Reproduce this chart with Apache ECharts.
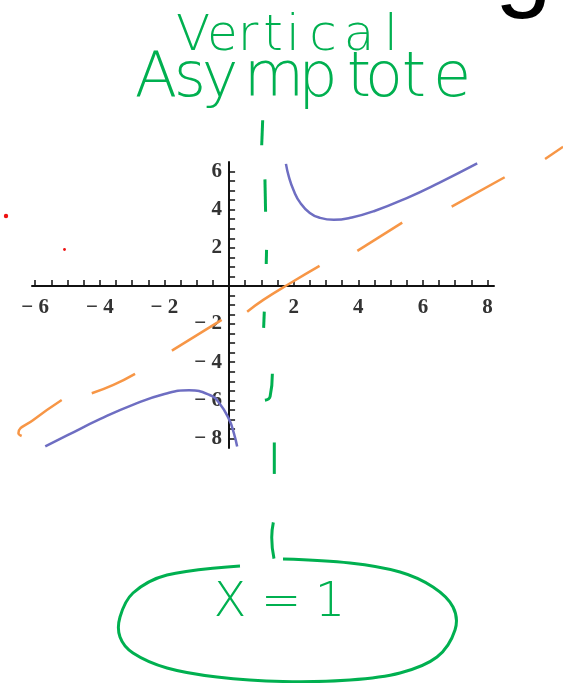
<!DOCTYPE html>
<html>
<head>
<meta charset="utf-8">
<script src="https://cdn.jsdelivr.net/npm/echarts@6/dist/echarts.min.js"></script>
<style>
  html, body { margin: 0; padding: 0; background: #fff; }
  #chart { width: 563px; height: 683px; }
</style>
</head>
<body>
<div id="chart"></div>
<script>
// tick positions and labels (Mathematica style axes)
var xTickValues = [-6, -5.5, -5, -4.5, -4, -3.5, -3, -2.5, -2, -1.5, -1, -0.5, 0.5, 1, 1.5, 2, 2.5, 3, 3.5, 4, 4.5, 5, 5.5, 6, 6.5, 7, 7.5, 8]
var xLabelValues = [-6, -4, -2, 2, 4, 6, 8]
var yTickValues = [-8, -7.5, -7, -6.5, -6, -5.5, -5, -4.5, -4, -3.5, -3, -2.5, -2, -1.5, -1, -0.5, 0.5, 1, 1.5, 2, 2.5, 3, 3.5, 4, 4.5, 5, 5.5, 6]
var yLabelValues = [-8, -6, -4, -2, 2, 4, 6]

// blue curve
var leftBranch = [[-5.69, -8.41], [-5, -7.83], [-4, -6.99], [-3, -6.25], [-2, -5.67], [-1.24, -5.47],
  [-0.6, -5.72], [-0.3, -6.15], [0, -7.0], [0.15, -7.73], [0.25, -8.42]]
var rightBranch = [[1.76, 6.4], [1.85, 5.73], [2, 5.0], [2.2, 4.37], [2.5, 3.83], [2.8, 3.58], [3.24, 3.47],
  [3.8, 3.59], [4.5, 3.93], [5.5, 4.61], [6.5, 5.41], [7.68, 6.43]]

// hand drawn slant asymptote (orange dashes)
var orangeDashes = [
  [[-6.42, -7.87], [-6.52, -7.72], [-6.06, -7.03], [-5.18, -5.98]],
  [[-4.25, -5.63], [-3.58, -5.19], [-2.91, -4.61]],
  [[-1.77, -3.39], [-0.23, -1.78]],
  [[0.56, -1.35], [1.06, -0.73], [1.89, 0.14], [2.8, 1.05]],
  [[3.97, 1.84], [5.36, 3.32]],
  [[6.89, 4.16], [8.53, 5.7]],
  [[9.78, 6.66], [10.34, 7.3]]
]

// hand drawn vertical asymptote x = 1 (green dashes)
var greenDashes = [
  [[1.04, 8.69], [1.01, 7.38]],
  [[1.11, 5.59], [1.13, 3.89]],
  [[1.16, 1.89], [1.15, 1.15]],
  [[1.09, -1.35], [1.07, -2.2]],
  [[1.34, -4.61], [1.27, -5.8], [1.11, -6.0]],
  [[1.4, -8.21], [1.4, -9.86]],
  [[1.37, -12.4], [1.32, -13.2], [1.39, -14.3]]
]

var green = '#00b050'
var W = 563, H = 683
var gLeft = 32, gRight = 69, gTop = 162, gBottom = 235
var xMin = -6.1, xMax = 8.2, yMin = -8.5, yMax = 6.5

// scale of the main grid, used to lay the axes through zero and
// to give the overlay grid (whole canvas) the same scale
var sx = (W - gLeft - gRight) / (xMax - xMin)
var sy = (H - gTop - gBottom) / (yMax - yMin)
var zeroX = gLeft - xMin * sx
var zeroY = gTop + yMax * sy

function fmt(v) {
  if (v < 0) return '\u2212 ' + (-v)
  return String(v)
}

// place handwritten letters one by one
function letters(word, xs, y, size) {
  var out = []
  for (var i = 0; i < word.length; i++) {
    out.push({
      type: 'text',
      x: xs[i],
      y: y,
      style: {
        text: word[i],
        fill: green,
        font: '200 ' + size + 'px "DejaVu Sans"',
        textAlign: 'center',
        textVerticalAlign: 'middle'
      }
    })
  }
  return out
}

var chart = echarts.init(document.getElementById('chart'))

var series = [
  { type: 'line', data: leftBranch, smooth: 0.5, symbol: 'none',
    lineStyle: { color: '#6e6ec2', width: 2.5 } },
  { type: 'line', data: rightBranch, smooth: 0.5, symbol: 'none',
    lineStyle: { color: '#6e6ec2', width: 2.5 } }
]
orangeDashes.forEach(function(seg) {
  series.push({ type: 'line', xAxisIndex: 1, yAxisIndex: 1, data: seg, smooth: true, symbol: 'none',
    lineStyle: { color: '#f79646', width: 2.5 } })
})
greenDashes.forEach(function(seg) {
  series.push({ type: 'line', xAxisIndex: 1, yAxisIndex: 1, data: seg, smooth: true, symbol: 'none',
    lineStyle: { color: green, width: 3 } })
})

var graphics = [
  // cut-off slide title
  { type: 'text', x: 552, y: -31, style: { text: 'Drawing', fill: '#000',
    font: '103px "Liberation Sans"', textAlign: 'right', textVerticalAlign: 'middle' } },
  // red specks
  { type: 'circle', shape: { cx: 6, cy: 216, r: 2.2 }, style: { fill: '#ee1111' } },
  { type: 'circle', shape: { cx: 64.5, cy: 249.5, r: 1.4 }, style: { fill: '#ee1111' } },
  // ellipse around x = 1
  { type: 'polyline', shape: { smooth: 0.35, points: [
    [240, 566], [167, 575], [133, 593], [120, 617], [120, 637], [133, 653], [167, 668], [217, 677],
    [283, 681.5], [350, 680], [400, 673], [437, 657], [455, 630], [453, 607], [433, 587],
    [400, 572], [350, 563], [283, 559]] },
    style: { stroke: green, lineWidth: 3, fill: null } }
]
graphics = graphics
  .concat(letters('Vertical', [193, 222.5, 248, 273, 293, 323, 359, 391], 37, 50))
  .concat(letters('Asymptote', [156, 190, 220, 274, 318, 359, 384, 414, 452], 80, 62))
  .concat(letters('X=1', [230, 281, 330], 604, 48))

var labelStyle = {
  formatter: fmt,
  fontFamily: 'Liberation Serif',
  fontSize: 21,
  fontWeight: 'bold',
  color: '#333'
}

chart.setOption({
  backgroundColor: '#fff',
  animation: false,
  grid: [
    { left: gLeft, right: gRight, top: gTop, bottom: gBottom, outerBoundsMode: 'none', containLabel: false },
    { left: 0, right: 0, top: 0, bottom: 0, outerBoundsMode: 'none', containLabel: false }
  ],
  xAxis: [{
    type: 'value',
    min: xMin,
    max: xMax,
    position: 'bottom',
    offset: -(H - gBottom - zeroY),
    axisLine: { onZero: false, lineStyle: { color: '#111', width: 2 } },
    axisTick: { customValues: xTickValues, inside: true, length: 6, lineStyle: { color: '#111', width: 1.5 } },
    axisLabel: Object.assign({ customValues: xLabelValues, margin: 11 }, labelStyle),
    splitLine: { show: false }
  }, {
    type: 'value',
    gridIndex: 1,
    show: false,
    min: -zeroX / sx,
    max: (W - zeroX) / sx
  }],
  yAxis: [{
    type: 'value',
    min: yMin,
    max: yMax,
    position: 'left',
    offset: -(zeroX - gLeft),
    axisLine: { onZero: false, lineStyle: { color: '#111', width: 2 } },
    axisTick: { customValues: yTickValues, inside: true, length: 6, lineStyle: { color: '#111', width: 1.5 } },
    axisLabel: Object.assign({ customValues: yLabelValues, margin: 7 }, labelStyle),
    splitLine: { show: false }
  }, {
    type: 'value',
    gridIndex: 1,
    show: false,
    min: -(H - zeroY) / sy,
    max: zeroY / sy
  }],
  series: series,
  graphic: graphics
})
</script>
</body>
</html>
